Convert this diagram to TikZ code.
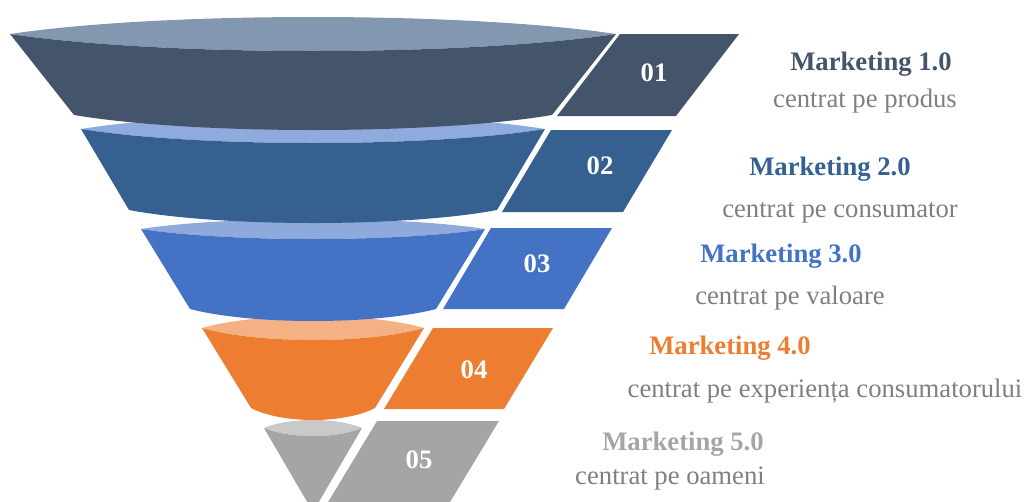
\documentclass[tikz,border=0pt]{standalone}
\usepackage{fontspec}
\setmainfont{Liberation Serif}
\definecolor{dark1}{HTML}{44546A}
\definecolor{lite1}{HTML}{8497B0}
\definecolor{dark2}{HTML}{35608F}
\definecolor{lite2}{HTML}{8FAADC}
\definecolor{dark3}{HTML}{4472C4}
\definecolor{lite3}{HTML}{8EA9DB}
\definecolor{dark4}{HTML}{ED7D31}
\definecolor{lite4}{HTML}{F4B183}
\definecolor{dark5}{HTML}{A5A5A5}
\definecolor{lite5}{HTML}{C9C9C9}
\definecolor{subgray}{HTML}{7F7F7F}
\begin{document}
\begin{tikzpicture}
[x=0.75pt,y=-0.75pt,
  labeldecorate/.style={anchor=base,inner sep=0pt,font=\fontsize{20}{24}\selectfont},%
  numdecorate/.style={labeldecorate,text=white,font=\fontsize{20}{24}\selectfont\bfseries},%
  titledecorate/.style={labeldecorate,font=\fontsize{20}{24}\selectfont\bfseries},%
  subdecorate/.style={labeldecorate,text=subgray}]
\useasboundingbox (0,0) rectangle (1024,501);
\clip (0,0) rectangle (1024,501);
%% funnel layers, lowest first
\foreach \layer/\ty/\tw/\ft/\by/\bw/\bd in {
  5/428/49/8/512/0/0, 4/328/111/12/408/62/12, 3/229/172/10/309/123/12,
  2/129/232/14/210/184/13, 1/34/303/17/115/239/15}
{
  \fill[lite\layer] ({313-\tw},\ty)
    .. controls ({313-\tw/2},{\ty-4*\ft/3}) and ({313+\tw/2},{\ty-4*\ft/3}) .. ({313+\tw},\ty)
    .. controls ({313+\tw/2},{\ty+4*\ft/3}) and ({313-\tw/2},{\ty+4*\ft/3}) .. cycle;
  \fill[dark\layer] ({313-\tw},\ty) -- ({313-\bw},\by)
    .. controls ({313-\bw/2},{\by+4*\bd/3}) and ({313+\bw/2},{\by+4*\bd/3}) .. ({313+\bw},\by)
    -- ({313+\tw},\ty)
    .. controls ({313+\tw/2},{\ty+4*\ft/3}) and ({313-\tw/2},{\ty+4*\ft/3}) .. cycle;
}
%% tabs with numbers
\foreach \layer/\qx/\qy/\rx/\ry/\qw/\nx/\ny in {
  1/620/34/557/116/119/654/81, 2/551/130/502/212/121/600/174,
  3/491/228/443/309/121/537/272, 4/433/328/384/409/120/474/378,
  5/377/421/322/512/122/419/468}
{
  \fill[dark\layer] (\qx,\qy) -- ({\qx+\qw},\qy) -- ({\rx+\qw},\ry) -- (\rx,\ry) -- cycle;
  \node (num\layer) at (\nx,\ny) [numdecorate] {0\layer};
}
%% titles and captions
\foreach \layer/\mx/\my/\sx/\sy/\caption in {
  1/871/70/865/107/centrat pe produs, 2/830/175/840/217/centrat pe consumator,
  3/781/262/790/304/centrat pe valoare,
  4/730/354/825/397/centrat pe experiența consumatorului,
  5/683/450/670/484/centrat pe oameni}
{
  \node (title\layer) at (\mx,\my) [titledecorate,text=dark\layer] {Marketing \layer.0};
  \node (sub\layer) at (\sx,\sy) [subdecorate] {\caption};
}
\end{tikzpicture}
\end{document}
